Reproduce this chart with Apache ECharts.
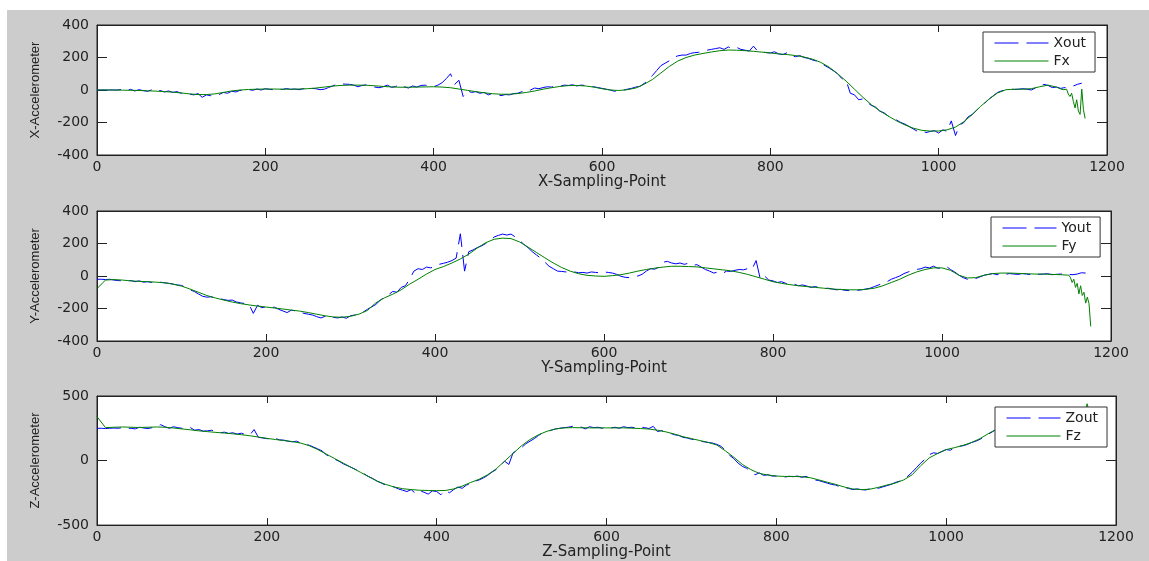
<!DOCTYPE html>
<html>
<head>
<meta charset="utf-8">
<script src="https://cdn.jsdelivr.net/npm/echarts@6/dist/echarts.min.js"></script>
<style>
html,body{margin:0;padding:0;background:#fff;}
#bg{position:absolute;left:7px;top:10px;width:1142px;height:551px;background:#cccccc;}
#chart{position:absolute;left:0;top:0;width:1149px;height:561px;}
</style>
</head>
<body>
<div id="bg"></div>
<div id="chart"></div>
<script>
// ---------------- DATA ----------------
const xTicks = [0, 200, 400, 600, 800, 1000, 1200];
const seriesNames = [["Xout", "Fx"], ["Yout", "Fy"], ["Zout", "Fz"]];
const axisTitlesX = ["X-Sampling-Point", "Y-Sampling-Point", "Z-Sampling-Point"];
const axisTitlesY = ["X-Accelerometer", "Y-Accelerometer", "Z-Accelerometer"];

// X accelerometer: measured (step 5 from 0)
const xoutVals = [
  0,0,0,0,0,0,5,-3,4,-6,2,-4,-8,1,-10,-3,-12,-6,-15,-10,
  -20,-15,-25,-30,-22,-45,-30,-35,-25,-28,-15,-20,-8,-12,-2,-6,3,-2,6,0,
  8,4,2,7,3,9,4,6,2,8,5,10,8,2,5,15,25,35,38,36,
  35,30,20,28,32,26,18,14,20,30,16,22,35,20,12,25,18,28,30,22,
  20,30,45,70,100,35,60,-40,-5,-15,-10,-20,-15,-30,-20,-25,-35,-28,-30,-22,
  -20,-10,5,0,12,8,15,20,18,25,22,30,28,32,25,30,28,22,20,15,
  10,5,0,-8,-5,-2,5,10,18,22,40,60,90,120,150,165,180,200,210,215,
  215,225,230,232,240,245,250,255,260,250,265,255,262,250,245,240,270,238,235,230,
  228,235,222,218,230,210,205,212,200,195,185,178,165,150,135,118,100,70,60,-20,
  -30,-60,-55,-75,-95,-105,-130,-140,-160,-175,-185,-200,-210,-225,-240,-255,-250,-262,-255,-250,
  -265,-245,-255,-190,-280,-215,-200,-165,-150,-125,-100,-80,-55,-35,-15,-5,0,5,3,5,
  8,5,0,12,20,35,28,15,18,10,15,20,25,35,42
];
// X fit (step 10 from 0) + noisy tail (step 2 from 1142)
const fxVals = [
  0,0,0,-1,-2,-3,-5,-7,-10,-13,
  -18,-24,-28,-28,-24,-15,-6,0,3,5,
  6,6,5,5,6,8,12,18,24,28,
  30,30,29,26,22,19,17,17,18,19,
  20,18,14,6,-2,-10,-17,-23,-26,-26,
  -22,-15,-6,5,14,22,27,28,25,18,
  8,0,-3,2,12,35,65,105,145,178,
  200,215,225,234,242,246,245,242,238,233,
  228,222,218,212,203,190,170,140,100,55,
  5,-45,-90,-128,-160,-190,-215,-235,-248,-253,
  -252,-245,-228,-195,-150,-100,-55,-18,2,5,
  5,8,20,30,18
];
const fxTail = [14,8,18,2,-10,5,-25,-40,-20,-70,-110,-60,-130,-150,5,-120,-175];

// Y accelerometer
const youtVals = [
  -20,-20,-22,-20,-25,-28,-30,-32,-28,-35,-30,-38,-35,-40,-36,-38,-42,-45,-50,-55,
  -58,-70,-85,-95,-110,-125,-130,-128,-135,-140,-145,-150,-148,-160,-165,-170,-175,-230,-180,-195,
  -190,-195,-192,-205,-215,-225,-210,-215,-222,-230,-235,-240,-250,-258,-248,-262,-255,-258,-252,-260,
  -245,-240,-230,-222,-205,-190,-175,-150,-130,-115,-95,-100,-70,-60,-20,30,45,40,55,50,
  60,72,78,85,95,110,260,30,150,160,175,185,200,215,240,250,258,252,258,240,
  220,195,175,150,130,110,85,60,45,30,28,25,22,25,20,22,18,25,22,20,
  25,22,18,10,-2,-8,-10,-5,0,10,30,45,42,55,85,90,80,75,80,72,
  78,65,70,55,40,30,18,25,15,30,28,35,40,38,45,40,95,-20,0,-25,
  -30,-40,-35,-45,-55,-50,-60,-55,-62,-70,-65,-72,-78,-75,-80,-85,-82,-88,-90,-85,
  -88,-85,-80,-75,-65,-55,-45,-35,-20,-10,0,15,25,35,40,45,55,50,60,48,
  50,60,40,25,5,-10,-20,-25,-15,-5,5,10,15,8,12,10,15,12,10,15,
  12,8,15,10,12,14,8,10,12,15,10,8,12,20,18
];
const fyVals = [
  -78,-25,-22,-25,-30,-33,-35,-38,-42,-50,
  -62,-80,-100,-120,-135,-148,-160,-170,-178,-185,
  -191,-197,-203,-210,-216,-225,-235,-245,-252,-254,
  -248,-235,-212,-165,-135,-112,-85,-50,-20,12,
  40,58,80,105,135,172,205,226,233,230,
  210,178,145,112,80,52,30,14,4,0,
  -2,2,8,18,30,40,48,55,60,60,
  58,56,50,44,38,32,22,10,-5,-20,
  -35,-45,-53,-60,-65,-70,-75,-80,-83,-85,
  -85,-82,-75,-60,-40,-20,5,25,40,50,
  50,35,5,-12,-10,5,15,18,18,16,
  14,12,12,10,8,5
];
const fyTail = [-10,-40,-20,-70,-45,-110,-60,-120,-100,-167,-130,-170,-310];

// Z accelerometer
const zoutVals = [
  250,250,248,250,252,250,255,248,250,245,258,252,248,255,260,278,262,250,262,255,
  250,245,255,235,240,228,230,235,222,215,220,210,215,205,212,200,198,240,180,175,
  170,165,172,160,158,150,145,150,135,128,118,105,90,75,45,30,10,-5,-25,-40,
  -55,-70,-90,-105,-125,-140,-160,-175,-190,-200,-205,-220,-230,-240,-225,-255,-235,-245,-260,-235,
  -240,-265,-230,-250,-225,-205,-215,-190,-180,-160,-150,-135,-115,-90,-70,-40,-5,-30,60,80,
  100,130,150,170,195,215,225,235,245,250,255,258,265,250,260,245,262,255,258,250,
  255,252,258,250,262,255,258,252,260,255,248,265,225,232,218,212,200,195,180,175,
  165,160,150,145,140,135,125,110,80,40,15,-20,-45,-60,-85,-110,-95,-115,-110,-120,
  -120,-125,-128,-122,-125,-120,-130,-122,-140,-150,-155,-165,-175,-185,-190,-205,-210,-215,-225,-220,
  -225,-228,-220,-225,-215,-205,-195,-185,-170,-160,-145,-120,-90,-55,-20,10,45,60,55,70,
  85,80,100,110,115,125,140,150,165,185,205,225,245
];
const fzVals = [
  340,255,258,260,258,256,258,260,258,252,
  245,238,230,224,218,213,207,200,192,182,
  172,163,155,147,135,115,85,50,15,-20,
  -55,-90,-125,-160,-185,-205,-218,-225,-230,-232,
  -233,-232,-220,-198,-170,-145,-110,-65,-5,55,
  115,163,200,227,245,253,255,254,253,253,
  253,253,253,251,248,244,235,222,205,185,
  170,155,140,120,75,25,-30,-70,-100,-112,
  -120,-123,-123,-125,-133,-150,-168,-185,-205,-220,
  -225,-222,-208,-190,-175,-150,-110,-40,20,55,
  85,100,118,140,170,210,245,270,295,315,
  330,345,355,365,375,385,395
];
const fzTail = [405,380,440,390];

// y-axis ranges per panel
const yRanges = [[-400, 400, 200], [-400, 400, 200], [-500, 500, 500]];

// --------------- BUILD ----------------
function pts(vals, start, step) { return vals.map((v, i) => [start + i * step, v]); }
const measured = [pts(xoutVals, 0, 5), pts(youtVals, 0, 5), pts(zoutVals, 0, 5)];
const fitted = [
  pts(fxVals, 0, 10).concat(pts(fxTail, 1142, 2)),
  pts(fyVals, 0, 10).concat(pts(fyTail, 1152, 2)),
  pts(fzVals, 0, 10).concat(pts(fzTail, 1162, 2))
];

const grids = [
  {left: 97, top: 25, width: 1010, height: 130},
  {left: 97, top: 211, width: 1014, height: 130},
  {left: 97, top: 396, width: 1019, height: 131}
];
const legendPos = [{left: 983, top: 32}, {left: 991, top: 217}, {left: 995, top: 407}];
const nameGapsX = [20, 20, 19];
const DASH = [24, 8];

const TXT = '#222';
const plainNum = v => String(v);
const tickFont = {fontFamily: 'DejaVu Sans', fontSize: 14, color: TXT, formatter: plainNum};
const xAxes = [], yAxes = [], series = [], legends = [];
grids.forEach((g, i) => {
  g.show = true; g.backgroundColor = '#fff'; g.borderColor = '#222'; g.borderWidth = 1;
  xAxes.push({
    type: 'value', gridIndex: i, min: 0, max: 1200, interval: 200, position: 'bottom',
    name: axisTitlesX[i], nameLocation: 'middle', nameGap: nameGapsX[i],
    nameTextStyle: {fontFamily: 'DejaVu Sans', fontSize: 15, color: TXT},
    axisLine: {show: true, onZero: false, lineStyle: {color: '#222', width: 1}},
    axisTick: {show: true, inside: true, length: 7, lineStyle: {color: '#222'}},
    axisLabel: Object.assign({margin: 5}, tickFont),
    splitLine: {show: false}
  });
  xAxes.push({
    type: 'value', gridIndex: i, min: 0, max: 1200, interval: 200, position: 'top',
    axisLine: {show: true, onZero: false, lineStyle: {color: '#222', width: 1}},
    axisTick: {show: true, inside: true, length: 7, lineStyle: {color: '#222'}},
    axisLabel: {show: false}, splitLine: {show: false}
  });
  const r = yRanges[i];
  yAxes.push({
    type: 'value', gridIndex: i, min: r[0], max: r[1], interval: r[2], position: 'left',
    name: axisTitlesY[i], nameLocation: 'middle', nameGap: 55,
    nameTextStyle: {fontFamily: 'Liberation Sans', fontSize: 13, color: TXT},
    axisLine: {show: true, onZero: false, lineStyle: {color: '#222', width: 1}},
    axisTick: {show: true, inside: true, length: 10, lineStyle: {color: '#222'}},
    axisLabel: Object.assign({margin: 8}, tickFont),
    splitLine: {show: false}
  });
  yAxes.push({
    type: 'value', gridIndex: i, min: r[0], max: r[1], interval: r[2], position: 'right',
    axisLine: {show: true, onZero: false, lineStyle: {color: '#222', width: 1}},
    axisTick: {show: true, inside: true, length: 10, lineStyle: {color: '#222'}},
    axisLabel: {show: false}, splitLine: {show: false}
  });
  series.push({
    name: seriesNames[i][0], type: 'line', xAxisIndex: 2 * i, yAxisIndex: 2 * i,
    data: measured[i], symbol: 'none', color: '#0000ff', z: 2,
    lineStyle: {color: '#0000ff', width: 1, type: DASH}
  });
  series.push({
    name: seriesNames[i][1], type: 'line', xAxisIndex: 2 * i, yAxisIndex: 2 * i,
    data: fitted[i], symbol: 'none', color: '#008000', z: 3,
    lineStyle: {color: '#008000', width: 1, type: 'solid'}
  });
  legends.push({
    data: [
      {name: seriesNames[i][0], lineStyle: {type: DASH, color: '#0000ff', width: 1}},
      {name: seriesNames[i][1], lineStyle: {type: 'solid', color: '#008000', width: 1}}
    ],
    orient: 'vertical', left: legendPos[i].left, top: legendPos[i].top,
    itemWidth: 54, itemHeight: 14, itemGap: 4,
    padding: [4, 9, 4, 11],
    itemStyle: {opacity: 0},
    backgroundColor: '#fff', borderColor: '#333', borderWidth: 1, borderRadius: 0,
    textStyle: {fontFamily: 'DejaVu Sans', fontSize: 14, color: TXT},
    selectedMode: false, z: 10
  });
});

const chart = echarts.init(document.getElementById('chart'), null, {renderer: 'canvas'});
chart.setOption({
  backgroundColor: 'transparent',
  animation: false,
  grid: grids,
  xAxis: xAxes,
  yAxis: yAxes,
  legend: legends,
  series: series
});
</script>
</body>
</html>
